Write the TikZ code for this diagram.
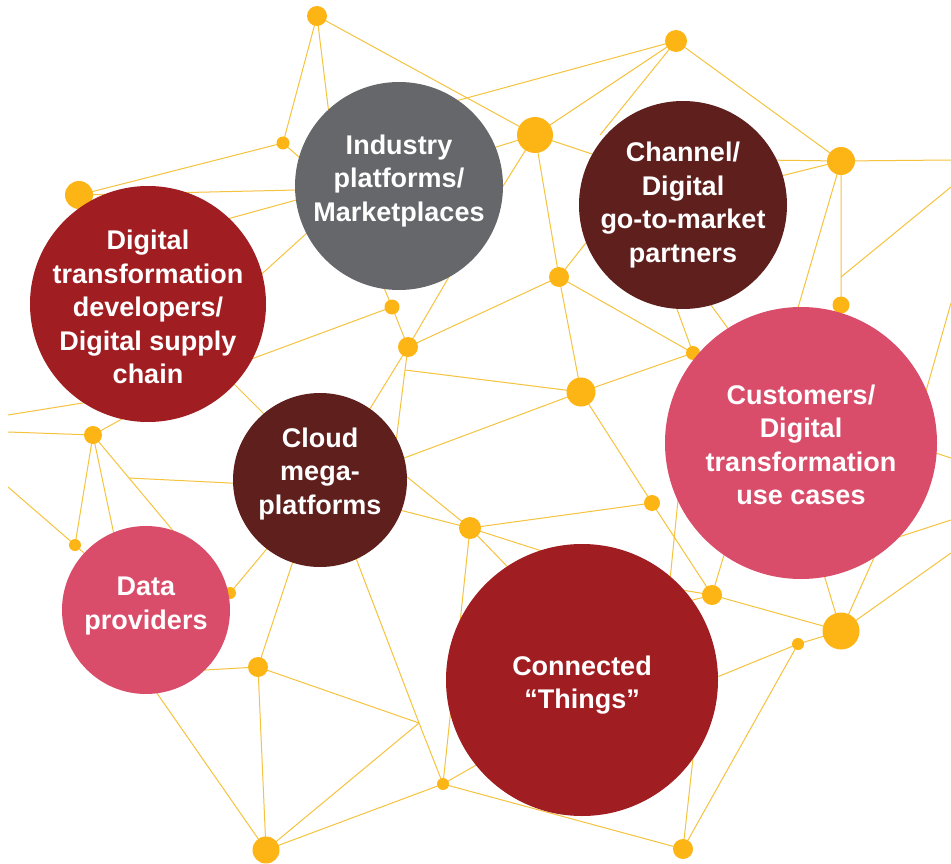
\documentclass[tikz,border=0pt]{standalone}
\usepackage{fontspec}
\setmainfont{Liberation Sans}
\definecolor{linec}{HTML}{F6C33F}
\definecolor{dotc}{HTML}{FDB515}
\definecolor{hubgray}{HTML}{66676B}
\definecolor{hubbrown}{HTML}{5E1F1D}
\definecolor{hubred}{HTML}{A01D21}
\definecolor{hubpink}{HTML}{DA4D6A}
\tikzset{
  link/.style={draw=linec, line width=1pt},
  dot/.style={circle, fill=dotc, inner sep=0pt, minimum size=#1},
  hub/.style={circle, fill=#1, inner sep=0pt},
  hubtext/.style={text=white, align=center, inner sep=0pt,
    font=\bfseries\fontsize{27}{33.5}\selectfont}
}
\begin{document}
\begin{tikzpicture}[x=1pt, y=-1pt]
\useasboundingbox (0,0) rectangle (951,864);
\fill[white] (0,0) rectangle (951,864);

% network junctions
\coordinate (A) at (317,16);
\coordinate (B) at (283,143);
\coordinate (C) at (79,195);
\coordinate (D) at (676,41);
\coordinate (E) at (535,135);
\coordinate (F) at (841,161);
\coordinate (G) at (559,277);
\coordinate (H) at (841,305);
\coordinate (I) at (392,307);
\coordinate (J) at (408,347);
\coordinate (K) at (581,392);
\coordinate (L) at (693,353);
\coordinate (M) at (93,435);
\coordinate (N) at (470,528);
\coordinate (O) at (652,503);
\coordinate (P) at (75,545);
\coordinate (Q) at (230,593);
\coordinate (R) at (258,667);
\coordinate (S) at (712,595);
\coordinate (T) at (841,631);
\coordinate (U) at (798,644);
\coordinate (V) at (443,784);
\coordinate (W) at (266,850);
\coordinate (X) at (683,849);
% bends without a dot
\coordinate (jm) at (129,478);
\coordinate (jk) at (405,370);
\coordinate (jv) at (419,723);
\coordinate (jf) at (841,277);
% loose ends at the page edges
\coordinate (eL1) at (8,415);
\coordinate (eL2) at (8,432);
\coordinate (eL3) at (8,487);
\coordinate (eR1) at (951,160);
\coordinate (eR2) at (951,187);
\coordinate (eR3) at (951,303);
\coordinate (eR4) at (951,458);
\coordinate (eR5) at (951,520);
\coordinate (eR6) at (951,553);

% links (ends inside the big circles are covered by them)
\path[link]
  (A) -- (B)  (A) -- (337,180)  (A) -- (E)
  (B) -- (C)  (B) -- (334,188)
  (C) -- (340,189)
  (180,232) -- (340,188)
  (200,330) -- (340,203)
  (200,378) -- (I)
  (210,360) -- (290,440)
  (eL1) -- (120,397)
  (eL2) -- (M)  (M) -- (140,409)  (M) -- (P)
  (eL3) -- (P)  (P) -- (100,567)
  (M) -- (120,563)
  (M) -- (jm) -- (185,545)
  (jm) -- (270,485)
  (I) -- (J)  (I) -- (380,278)
  (J) -- (460,258)  (J) -- (G)
  (J) -- (jk) -- (395,450)
  (J) -- (360,425)
  (jk) -- (K)
  (380,467) -- (K)
  (380,455) -- (N)
  (380,505) -- (N)
  (Q) -- (270,545)
  (170,672) -- (R)
  (R) -- (300,540)  (R) -- (W)  (R) -- (jv)
  (145,676) -- (W)
  (W) -- (jv)  (W) -- (V)
  (349,540) -- (jv) -- (V)
  (N) -- (V)
  (V) -- (520,740)  (V) -- (X)
  (N) -- (O)  (N) -- (530,590)  (N) -- (570,560)
  (K) -- (O)  (O) -- (S)
  (680,480) -- (668,600)
  (S) -- (730,535)  (S) -- (670,588)  (S) -- (670,606)
  (S) -- (T)
  (T) -- (818,555)  (T) -- (882,540)  (T) -- (eR6)
  (T) -- (U)  (U) -- (700,684)  (U) -- (X)
  (X) -- (695,740)
  (D) -- (430,108)  (D) -- (E)  (D) -- (600,135)  (D) -- (F)
  (E) -- (480,152)  (E) -- (490,207)  (E) -- (G)  (E) -- (610,160)
  (G) -- (600,225)  (G) -- (K)  (G) -- (L)
  (K) -- (L)
  (670,290) -- (L)
  (700,290) -- (740,345)
  (L) -- (720,360)
  (F) -- (760,160)  (F) -- (765,180)  (F) -- (eR1)
  (F) -- (jf) -- (H)
  (F) -- (790,335)
  (jf) -- (eR2)
  (H) -- (841,330)
  (eR3) -- (915,430)
  (905,443) -- (eR4)
  (880,543) -- (eR5);

% dots
\node[dot=20pt] (dA) at (A) {};
\node[dot=13pt] (dB) at (B) {};
\node[dot=28pt] (dC) at (C) {};
\node[dot=22pt] (dD) at (D) {};
\node[dot=36pt] (dE) at (E) {};
\node[dot=28pt] (dF) at (F) {};
\node[dot=20pt] (dG) at (G) {};
\node[dot=17pt] (dH) at (H) {};
\node[dot=15pt] (dI) at (I) {};
\node[dot=20pt] (dJ) at (J) {};
\node[dot=29pt] (dK) at (K) {};
\node[dot=14pt] (dL) at (L) {};
\node[dot=18pt] (dM) at (M) {};
\node[dot=22pt] (dN) at (N) {};
\node[dot=16pt] (dO) at (O) {};
\node[dot=12pt] (dP) at (P) {};
\node[dot=12pt] (dQ) at (Q) {};
\node[dot=20pt] (dR) at (R) {};
\node[dot=20pt] (dS) at (S) {};
\node[dot=37pt] (dT) at (T) {};
\node[dot=12pt] (dU) at (U) {};
\node[dot=12pt] (dV) at (V) {};
\node[dot=27pt] (dW) at (W) {};
\node[dot=20pt] (dX) at (X) {};

% ecosystem circles
\node[hub=hubgray,  minimum size=208pt] (industry)  at (399,186) {};
\node[hub=hubbrown, minimum size=208pt] (channel)   at (683,205) {};
\node[hub=hubred,   minimum size=236pt] (digital)   at (148,304) {};
\node[hub=hubbrown, minimum size=174pt] (cloud)     at (320,480) {};
\node[hub=hubpink,  minimum size=168pt] (data)      at (146,610) {};
\node[hub=hubpink,  minimum size=272pt] (customers) at (801,443) {};
\node[hub=hubred,   minimum size=272pt] (connected) at (582,680) {};

\node[hubtext] (industryT)  at (399,181) {Industry\\platforms/\\Marketplaces};
\node[hubtext] (channelT)   at (683,205) {Channel/\\Digital\\go-to-market\\partners};
\node[hubtext] (digitalT)   at (148,307) {Digital\\transformation\\developers/\\Digital supply\\chain};
\node[hubtext] (cloudT)     at (320,474) {Cloud\\mega-\\platforms};
\node[hubtext] (dataT)      at (146,606) {Data\\providers};
\node[hubtext] (customersT) at (801,445) {Customers/\\Digital\\transformation\\use cases};
\node[hubtext] (connectedT) at (582,685) {Connected\\“Things”};
\end{tikzpicture}
\end{document}
